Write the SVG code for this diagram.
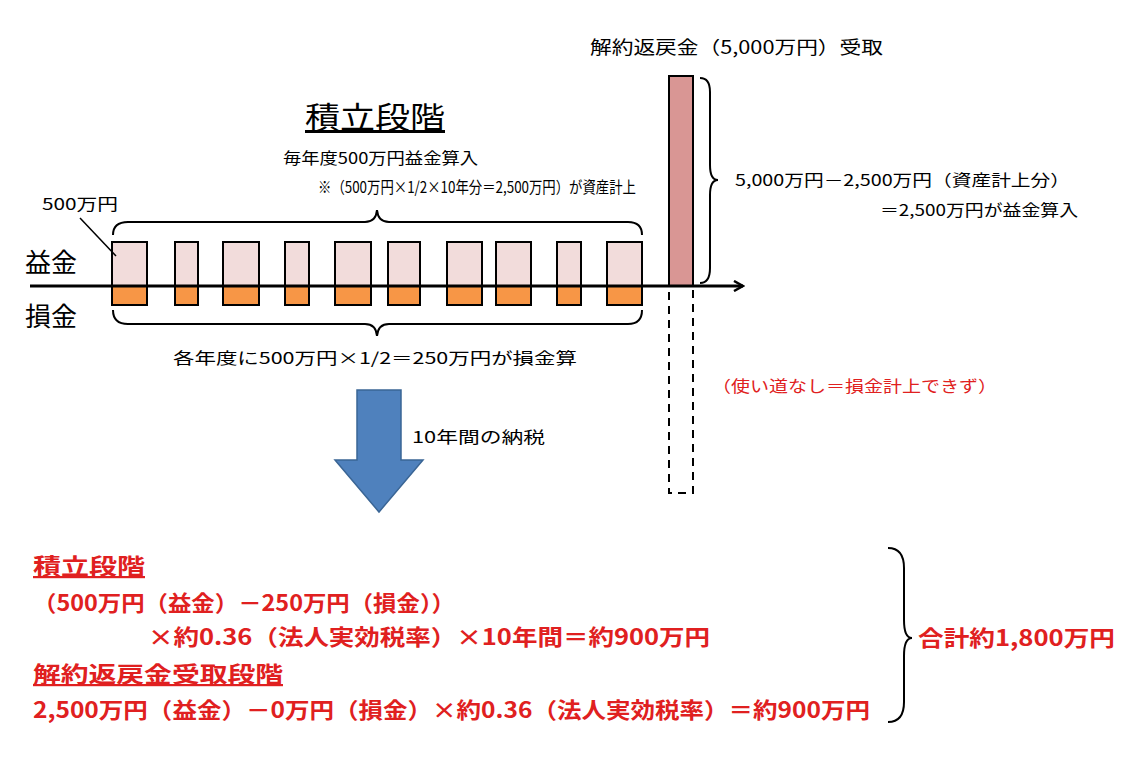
<svg xmlns="http://www.w3.org/2000/svg" width="1138" height="762" viewBox="0 0 1138 762">
<style>
text{font-family:"Noto Sans CJK JP","Noto Sans",sans-serif;fill:#000}
.s{font-size:16px}
.r{fill:#e02020}
.R{fill:#e02020;font-size:22px;font-weight:bold}
.p{fill:#f2dcdb;stroke:#000;stroke-width:2}
.o{fill:#f79646;stroke:#000;stroke-width:2}
.br{fill:none;stroke:#000;stroke-width:2}
</style>
<defs><marker id="ah" markerWidth="12" markerHeight="12" refX="10" refY="6" orient="auto" markerUnits="userSpaceOnUse"><path d="M1,1 L10,6 L1,11" fill="none" stroke="#000" stroke-width="2.5"/></marker></defs>
<rect width="1138" height="762" fill="#fff"/>
<g id="bars">
<rect class="p" x="112" y="242" width="35" height="44"/><rect class="o" x="112" y="286" width="35" height="19"/>
<rect class="p" x="175" y="242" width="23" height="44"/><rect class="o" x="175" y="286" width="23" height="19"/>
<rect class="p" x="223" y="242" width="36" height="44"/><rect class="o" x="223" y="286" width="36" height="19"/>
<rect class="p" x="285" y="242" width="24" height="44"/><rect class="o" x="285" y="286" width="24" height="19"/>
<rect class="p" x="335" y="242" width="36" height="44"/><rect class="o" x="335" y="286" width="36" height="19"/>
<rect class="p" x="388" y="242" width="32" height="44"/><rect class="o" x="388" y="286" width="32" height="19"/>
<rect class="p" x="447" y="242" width="35" height="44"/><rect class="o" x="447" y="286" width="35" height="19"/>
<rect class="p" x="496" y="242" width="35" height="44"/><rect class="o" x="496" y="286" width="35" height="19"/>
<rect class="p" x="557" y="242" width="24" height="44"/><rect class="o" x="557" y="286" width="24" height="19"/>
<rect class="p" x="607" y="242" width="35" height="44"/><rect class="o" x="607" y="286" width="35" height="19"/>
</g>
<g id="surrender">
<rect x="669" y="76" width="24" height="210" fill="#d99694" stroke="#000" stroke-width="2"/>
<rect x="669" y="286" width="24" height="207" fill="none" stroke="#000" stroke-width="2" stroke-dasharray="8,6"/>
</g>
<g id="connectors">
<line x1="30" y1="286" x2="743" y2="286" stroke="#000" stroke-width="3" marker-end="url(#ah)"/>
<line x1="80" y1="218" x2="116" y2="256" stroke="#000" stroke-width="1.5"/>
<path class="br" d="M113,235 Q113,222 128,222 L365,222 Q376,222 377,210 Q378,222 389,222 L628,222 Q642,222 642,235"/>
<path class="br" d="M113,310 Q113,324 128,324 L365,324 Q376,324 377,336 Q378,324 389,324 L628,324 Q642,324 642,310"/>
<path class="br" d="M700,78 Q710,78 710,92 L710,165 Q710,180 718,180 Q710,180 710,195 L710,268 Q710,283 700,283"/>
<path class="br" d="M888,548 Q904,548 904,568 L904,620 Q904,638 912,638 Q904,638 904,656 L904,702 Q904,722 888,722"/>
<path d="M357,390 L401,390 L401,460 L423,460 L379,512 L335,460 L357,460 Z" fill="#4f81bd" stroke="#3a6595" stroke-width="1.5"/>
</g>
<g id="labels">
<text x="305" y="128" font-size="30" textLength="140" lengthAdjust="spacingAndGlyphs" text-decoration="underline">積立段階</text>
<text class="s" x="283" y="164" textLength="195" lengthAdjust="spacingAndGlyphs">毎年度500万円益金算入</text>
<text class="s" x="318" y="193" textLength="318" lengthAdjust="spacingAndGlyphs">※（500万円×1/2×10年分＝2,500万円）が資産計上</text>
<text class="s" x="42" y="210" textLength="76" lengthAdjust="spacingAndGlyphs">500万円</text>
<text x="25" y="272" font-size="26">益金</text>
<text x="25" y="326" font-size="26">損金</text>
<text class="s" x="173" y="364" textLength="404" lengthAdjust="spacingAndGlyphs">各年度に500万円×1/2＝250万円が損金算</text>
<text class="s" x="412" y="443" textLength="133" lengthAdjust="spacingAndGlyphs">10年間の納税</text>
<text x="590" y="54" font-size="18" textLength="293" lengthAdjust="spacingAndGlyphs">解約返戻金（5,000万円）受取</text>
<text class="s" x="735" y="186" textLength="335" lengthAdjust="spacingAndGlyphs">5,000万円－2,500万円（資産計上分）</text>
<text class="s" x="880" y="216" textLength="198" lengthAdjust="spacingAndGlyphs">＝2,500万円が益金算入</text>
<text class="s r" x="712" y="392" textLength="285" lengthAdjust="spacingAndGlyphs">（使い道なし＝損金計上できず）</text>
<text class="R" x="33" y="574" font-weight="normal" textLength="112" lengthAdjust="spacingAndGlyphs" text-decoration="underline">積立段階</text>
<text class="R" x="33" y="611" textLength="422" lengthAdjust="spacingAndGlyphs">（500万円（益金）－250万円（損金））</text>
<text class="R" x="148" y="645" textLength="562" lengthAdjust="spacingAndGlyphs">×約0.36（法人実効税率）×10年間＝約900万円</text>
<text class="R" x="33" y="682" font-weight="normal" textLength="250" lengthAdjust="spacingAndGlyphs" text-decoration="underline">解約返戻金受取段階</text>
<text class="R" x="33" y="718" textLength="837" lengthAdjust="spacingAndGlyphs">2,500万円（益金）－0万円（損金）×約0.36（法人実効税率）＝約900万円</text>
<text class="R" x="918" y="646" font-size="24" textLength="197" lengthAdjust="spacingAndGlyphs">合計約1,800万円</text>
</g>
</svg>
